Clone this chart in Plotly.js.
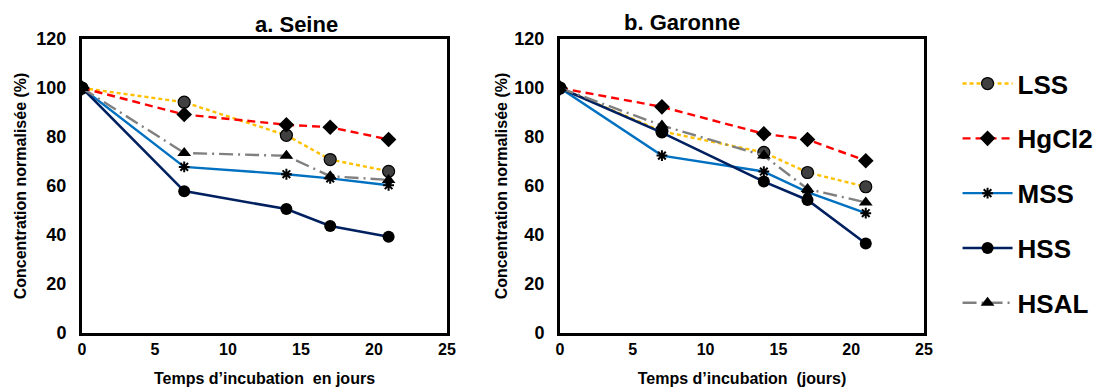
<!DOCTYPE html>
<html><head><meta charset="utf-8">
<script src="https://cdn.plot.ly/plotly-3.0.1.min.js"></script>
<style>body{margin:0;padding:0;background:#fff}#chart{width:1107px;height:388px}</style>
</head><body><div id="chart"></div>
<script>
const days = [0, 7, 14, 17, 21];
const seriesNames = ['LSS', 'HgCl2', 'MSS', 'HSS', 'HSAL'];
const seineLSS   = [100, 94.2, 80.7, 70.8, 66.0];
const seineHgCl2 = [100, 89.2, 85.0, 84.0, 79.0];
const seineMSS   = [100, 67.8, 64.8, 63.1, 60.3];
const seineHSS   = [100, 57.9, 50.6, 43.7, 39.3];
const seineHSAL  = [100, 73.5, 72.3, 64.0, 62.5];
const garLSS   = [100, 82.3, 73.7, 65.5, 59.7];
const garHgCl2 = [100, 92.3, 81.3, 79.0, 70.3];
const garMSS   = [100, 72.4, 65.9, 57.5, 48.9];
const garHSS   = [100, 81.8, 61.8, 54.3, 36.5];
const garHSAL  = [100, 84.7, 72.4, 58.8, 53.3];
const panelTitles = ['a. Seine', 'b. Garonne'];
const xTitles = ['Temps d\u2019incubation  en jours', 'Temps d\u2019incubation  (jours)'];
const yTitle = 'Concentration normalis\u00e9e (%)';

const styles = [
  {line:{color:'#FFC000', width:2.4, dash:'4px,3px'}, marker:{symbol:'circle', size:12, color:'#404040', line:{color:'#000', width:1.2}}},
  {line:{color:'#FF0000', width:2.4, dash:'8px,5px'}, marker:{symbol:'diamond', size:12, color:'#000'}},
  {line:{color:'#0070C0', width:2.4}, marker:{symbol:'asterisk-open', size:9, color:'#000', line:{color:'#000', width:2}}},
  {line:{color:'#002060', width:2.6}, marker:{symbol:'circle', size:12, color:'#000'}},
  {line:{color:'#808080', width:2.4, dash:'14px,5px,2px,5px'}, marker:{symbol:'triangle-up', size:12, color:'#000'}}
];
const panels = [
  [seineLSS, seineHgCl2, seineMSS, seineHSS, seineHSAL],
  [garLSS, garHgCl2, garMSS, garHSS, garHSAL]
];
const traces = [];
panels.forEach((p, pi) => {
  p.forEach((vals, si) => {
    traces.push({
      x: days, y: vals, type:'scatter', mode:'lines+markers',
      name: seriesNames[si], legendgroup: seriesNames[si], showlegend: pi === 0,
      xaxis: pi === 0 ? 'x' : 'x2', yaxis: pi === 0 ? 'y' : 'y2',
      line: styles[si].line, marker: styles[si].marker
    });
  });
});
const font = {family:'"Liberation Sans", Arial, sans-serif', color:'#000'};
function xa(dom, title){
  return {domain: dom, range:[0,25], tickvals:[0,5,10,15,20,25], showgrid:false, zeroline:false,
    showline:true, linecolor:'#000', linewidth:3, mirror:true, ticks:'',
    tickfont:{family:font.family, size:16, color:'#000', weight:'bold'},
    title:{text:title, font:{family:font.family, size:16, color:'#000', weight:'bold'}, standoff:16}};
}
function ya(dom, anchor, standoff){
  return {domain: dom, anchor: anchor, range:[0,120], tickvals:[0,20,40,60,80,100,120], showgrid:false, zeroline:false,
    showline:true, linecolor:'#000', linewidth:3, mirror:true, ticks:'', ticklabelstandoff:9,
    tickfont:{family:font.family, size:18, color:'#000', weight:'bold'},
    title:{text:yTitle, font:{family:font.family, size:16, color:'#000', weight:'bold'}, standoff:standoff}};
}
const yDom = [1-333/388, 1-39/388];
const layout = {
  width:1107, height:388, margin:{l:0, r:0, t:0, b:0},
  paper_bgcolor:'#fff', plot_bgcolor:'#fff', font: font,
  xaxis: Object.assign(xa([82/1107, 447/1107], xTitles[0]), {anchor:'y'}),
  yaxis: ya(yDom, 'x', 6),
  xaxis2: Object.assign(xa([560/1107, 924/1107], xTitles[1]), {anchor:'y2'}),
  yaxis2: ya(yDom, 'x2', 3),
  showlegend:true,
  legend:{x:0.865, y:0.845, xanchor:'left', yanchor:'top', tracegroupgap:18, itemwidth:50,
    font:{family:font.family, size:26, color:'#000', weight:'bold'}, bgcolor:'rgba(0,0,0,0)'},
  annotations:[
    {text:panelTitles[0], x:(211+294)/2/1107, y:1-25/388, xref:'paper', yref:'paper', yanchor:'middle', showarrow:false,
     font:{family:font.family, size:22, color:'#000', weight:'bold'}},
    {text:panelTitles[1], x:742/1107, y:1-22/388, xref:'paper', yref:'paper', yanchor:'middle', showarrow:false,
     font:{family:font.family, size:22, color:'#000', weight:'bold'}}
  ]
};
Plotly.newPlot('chart', traces, layout, {displayModeBar:false, staticPlot:true});
</script></body></html>
